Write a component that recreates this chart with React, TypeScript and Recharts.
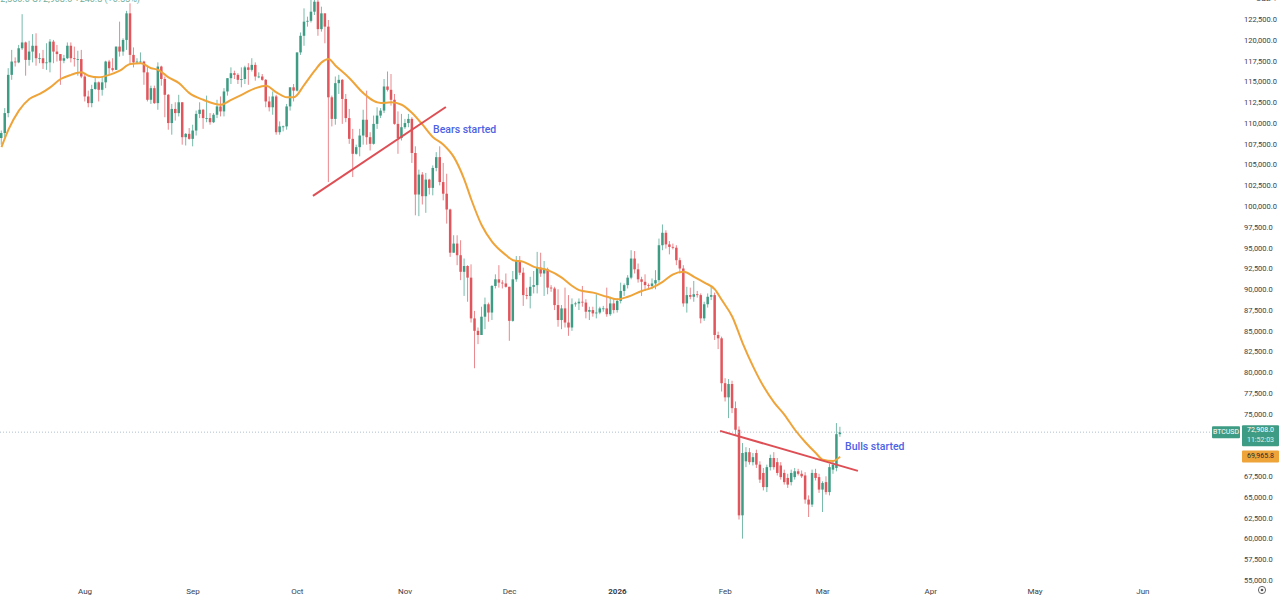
import { ComposedChart, Bar, Line, XAxis, YAxis, ReferenceLine, ReferenceDot } from 'recharts';

// BTCUSD daily candles, values in thousands of USD: [open, high, low, close]
const firstDay = '2025-07-08';

const jul25 = [
  [108.3, 109.2, 107.5, 108.9], [108.9, 111.9, 108.4, 111.3], [111.3, 116.7, 110.8, 115.9], [115.9, 118.9, 115.3, 117.5],
  [117.5, 118.0, 116.9, 117.4], [117.4, 119.5, 117.3, 119.1], [119.1, 123.2, 118.9, 119.8], [119.8, 119.9, 115.8, 117.7],
  [117.7, 120.0, 117.0, 118.7], [118.7, 120.8, 117.4, 119.4], [119.4, 120.9, 117.0, 117.9], [117.9, 118.5, 117.3, 117.9],
  [117.9, 118.9, 116.6, 117.3], [117.3, 119.7, 116.5, 117.4], [117.4, 120.2, 116.2, 119.9], [119.9, 120.1, 117.3, 118.7],
  [118.7, 119.5, 117.5, 118.4], [118.4, 118.4, 114.7, 117.6], [117.6, 118.3, 117.3, 117.9], [117.9, 119.8, 117.8, 119.4],
  [119.4, 119.8, 117.4, 117.9], [117.9, 119.3, 116.9, 117.8], [117.8, 118.8, 115.8, 117.8], [117.8, 118.9, 115.5, 115.7],
];

const aug25 = [
  [115.7, 116.0, 112.7, 113.3], [113.3, 114.0, 112.0, 112.5], [112.5, 114.7, 112.0, 114.2], [114.2, 115.7, 114.1, 115.0],
  [115.0, 115.1, 112.7, 114.1], [114.1, 115.7, 113.4, 115.0], [115.0, 117.6, 114.3, 117.5], [117.5, 117.7, 115.9, 116.7],
  [116.7, 117.9, 116.3, 116.5], [116.5, 119.3, 116.5, 119.3], [119.3, 122.3, 118.1, 118.7], [118.7, 120.3, 118.2, 120.1],
  [120.1, 123.6, 118.9, 123.3], [123.3, 124.5, 117.2, 118.3], [118.3, 119.2, 116.8, 117.4], [117.4, 117.9, 117.2, 117.5],
  [117.5, 118.6, 117.3, 117.5], [117.5, 117.6, 114.7, 116.2], [116.2, 117.0, 112.7, 112.9], [112.9, 114.6, 112.4, 114.3],
  [114.3, 114.6, 112.4, 112.5], [112.5, 117.4, 111.7, 116.9], [116.9, 117.0, 114.6, 115.4], [115.4, 115.7, 110.8, 113.5],
  [113.5, 113.6, 109.3, 110.1], [110.1, 112.4, 108.7, 111.8], [111.8, 112.6, 110.4, 111.3], [111.3, 113.5, 110.9, 112.6],
  [112.6, 112.6, 107.5, 108.4], [108.4, 108.9, 107.4, 108.8], [108.8, 109.5, 108.1, 108.2],
];

const sep25 = [
  [108.2, 109.9, 107.3, 109.2], [109.2, 111.6, 108.6, 111.2], [111.2, 112.6, 110.7, 111.7], [111.7, 111.8, 109.4, 110.7],
  [110.7, 113.4, 110.2, 110.7], [110.7, 111.3, 109.9, 110.2], [110.2, 111.3, 110.1, 111.1], [111.1, 112.9, 110.7, 112.1],
  [112.1, 113.3, 110.9, 111.5], [111.5, 114.3, 110.9, 113.9], [113.9, 115.5, 113.4, 115.5], [115.5, 116.8, 114.8, 116.1],
  [116.1, 116.4, 115.4, 115.9], [115.9, 116.1, 114.8, 115.3], [115.3, 116.8, 114.4, 115.4], [115.4, 117.0, 114.8, 116.8],
  [116.8, 117.3, 114.7, 116.5], [116.5, 117.9, 116.3, 117.1], [117.1, 117.4, 115.2, 115.7], [115.7, 116.2, 115.5, 115.7],
  [115.7, 116.0, 115.2, 115.3], [115.3, 115.4, 112.0, 112.7], [112.7, 113.3, 111.5, 112.0], [112.0, 113.9, 111.1, 113.3],
  [113.3, 113.5, 108.7, 109.0], [109.0, 110.3, 108.7, 109.7], [109.7, 109.8, 109.1, 109.7], [109.7, 112.4, 109.3, 112.1],
  [112.1, 114.4, 111.6, 114.4], [114.4, 114.8, 112.7, 114.0],
];

const oct25 = [
  [114.0, 118.6, 113.9, 118.6], [118.6, 121.0, 118.3, 120.6], [120.6, 123.9, 119.4, 122.3], [122.3, 122.9, 121.7, 122.4],
  [122.4, 125.7, 122.2, 123.5], [123.5, 126.2, 123.1, 124.7], [124.7, 125.1, 120.6, 121.4], [121.4, 124.1, 121.1, 123.3],
  [123.3, 123.3, 119.7, 121.7], [121.7, 122.5, 103.0, 113.2], [113.2, 113.4, 109.7, 110.6], [110.6, 115.7, 109.9, 114.9],
  [114.9, 115.9, 113.6, 115.3], [115.3, 115.4, 110.0, 113.0], [113.0, 113.6, 110.2, 110.7], [110.7, 111.8, 107.6, 108.2],
  [108.2, 109.4, 103.6, 106.4], [106.4, 107.5, 106.3, 107.2], [107.2, 109.4, 106.1, 108.6], [108.6, 111.7, 107.5, 110.5],
  [110.5, 114.0, 107.5, 108.4], [108.4, 109.0, 106.8, 107.6], [107.6, 111.0, 107.5, 110.0], [110.0, 112.0, 109.4, 111.0],
  [111.0, 111.9, 110.7, 111.6], [111.6, 115.4, 111.3, 114.5], [114.5, 116.3, 113.9, 114.1], [114.1, 116.0, 112.2, 112.9],
  [112.9, 113.6, 109.9, 110.0], [110.0, 111.5, 106.4, 108.3], [108.3, 111.2, 108.0, 109.6],
];

const nov25 = [
  [109.6, 110.6, 109.4, 110.1], [110.1, 111.2, 109.6, 110.6], [110.6, 110.8, 105.3, 106.5], [106.5, 107.3, 99.0, 101.5],
  [101.5, 104.5, 98.9, 103.9], [103.9, 104.2, 100.3, 101.3], [101.3, 104.1, 99.3, 103.3], [103.3, 103.4, 101.5, 102.3],
  [102.3, 105.0, 101.4, 104.7], [104.7, 106.6, 104.3, 106.0], [106.0, 107.3, 102.6, 103.0], [103.0, 105.3, 100.8, 101.6],
  [101.6, 104.0, 98.0, 99.7], [99.7, 99.8, 94.0, 94.5], [94.5, 96.6, 94.5, 95.6], [95.6, 96.6, 93.0, 94.2],
  [94.2, 96.0, 91.2, 92.2], [92.2, 93.8, 89.3, 92.9], [92.9, 93.0, 88.6, 91.5], [91.5, 93.1, 86.1, 86.6],
  [86.6, 87.5, 80.6, 85.1], [85.1, 85.5, 83.5, 84.6], [84.6, 88.0, 84.6, 86.8], [86.8, 89.1, 85.3, 88.3],
  [88.3, 88.5, 86.2, 87.3], [87.3, 90.6, 86.4, 90.5], [90.5, 91.9, 90.2, 91.3], [91.3, 93.0, 90.3, 90.9],
  [90.9, 91.2, 90.2, 90.8], [90.8, 92.0, 90.3, 90.4],
];

const dec25 = [
  [90.4, 90.4, 83.9, 86.3], [86.3, 92.3, 86.2, 91.3], [91.3, 94.1, 91.0, 93.5], [93.5, 94.1, 91.8, 92.1],
  [92.1, 92.7, 88.1, 89.4], [89.4, 90.3, 88.9, 89.3], [89.3, 91.6, 87.8, 90.4], [90.4, 92.3, 89.6, 90.6],
  [90.6, 94.6, 89.6, 92.7], [92.7, 94.5, 91.6, 92.0], [92.0, 93.5, 89.3, 92.5], [92.5, 92.7, 89.5, 90.3],
  [90.3, 90.6, 89.8, 90.2], [90.2, 90.4, 87.6, 88.2], [88.2, 90.1, 85.6, 86.4], [86.4, 88.2, 85.3, 87.8],
  [87.8, 90.3, 85.5, 86.1], [86.1, 89.4, 84.5, 85.5], [85.5, 89.0, 85.1, 88.3], [88.3, 88.6, 88.0, 88.4],
  [88.4, 89.0, 87.6, 88.6], [88.6, 90.5, 88.0, 88.5], [88.5, 88.9, 86.6, 87.4], [87.4, 88.0, 86.4, 87.6],
  [87.6, 88.0, 86.8, 87.2], [87.2, 89.5, 86.6, 87.3], [87.3, 88.0, 87.1, 87.8], [87.8, 88.1, 87.4, 87.8],
  [87.8, 90.3, 86.8, 87.1], [87.1, 89.2, 86.9, 88.4], [88.4, 89.0, 87.2, 87.6],
];

const jan26 = [
  [87.6, 89.0, 87.3, 88.7], [88.7, 90.9, 88.4, 89.9], [89.9, 90.8, 89.3, 90.6], [90.6, 91.8, 90.2, 91.5],
  [91.5, 94.8, 91.3, 93.8], [93.8, 94.7, 92.0, 92.5], [92.5, 93.2, 90.9, 91.3], [91.3, 91.6, 89.3, 91.0],
  [91.0, 91.9, 89.9, 90.6], [90.6, 90.8, 90.2, 90.5], [90.5, 91.4, 90.1, 90.8], [90.8, 92.4, 90.1, 91.2],
  [91.2, 96.2, 90.9, 95.4], [95.4, 97.9, 94.8, 96.9], [96.9, 97.2, 95.0, 95.5], [95.5, 95.9, 94.3, 95.2],
  [95.2, 95.6, 94.9, 95.1], [95.1, 95.4, 93.0, 93.6], [93.6, 93.9, 92.0, 92.6], [92.6, 93.0, 88.0, 88.4],
  [88.4, 90.4, 87.3, 89.4], [89.4, 90.3, 88.9, 89.2], [89.2, 91.1, 88.6, 89.5], [89.5, 89.9, 89.1, 89.4],
  [89.4, 89.6, 86.0, 86.6], [86.6, 88.6, 86.3, 88.3], [88.3, 89.6, 87.9, 89.2], [89.2, 90.5, 88.8, 89.4],
  [89.4, 89.7, 84.0, 84.6], [84.6, 85.0, 82.9, 84.2], [84.2, 84.4, 77.8, 78.8],
];

const feb26 = [
  [78.8, 79.4, 76.6, 77.1], [77.1, 79.3, 74.6, 78.7], [78.7, 79.1, 75.2, 75.8], [75.8, 76.6, 72.6, 73.2],
  [73.2, 73.6, 62.4, 62.9], [62.9, 71.6, 60.1, 70.4], [69.4, 71.1, 68.7, 70.5], [70.5, 71.0, 69.0, 69.3],
  [69.3, 70.4, 68.9, 69.9], [70.4, 70.8, 68.6, 69.0], [69.0, 69.4, 66.8, 67.2], [68.0, 68.6, 65.9, 66.3],
  [66.3, 69.0, 65.7, 68.7], [68.7, 70.2, 68.3, 69.8], [69.8, 70.5, 68.4, 68.7], [69.3, 69.8, 67.7, 68.0],
  [68.9, 69.3, 67.2, 67.5], [68.0, 68.4, 66.6, 66.9], [67.4, 67.9, 66.2, 66.6], [66.9, 68.4, 66.5, 68.0],
  [67.5, 68.6, 67.2, 68.2], [68.2, 68.5, 67.7, 67.9], [67.9, 68.3, 67.4, 67.6], [67.7, 68.1, 64.3, 64.8],
  [64.8, 65.3, 62.7, 64.2], [64.2, 68.4, 63.9, 68.0], [68.0, 68.5, 67.1, 67.4], [67.5, 67.9, 65.6, 66.0],
];

const mar26 = [
  [66.0, 67.0, 63.3, 66.8], [66.9, 67.6, 65.4, 65.7], [65.7, 69.1, 65.3, 68.7], [68.4, 69.5, 67.9, 69.0],
  [68.6, 74.0, 68.2, 72.667], [72.667, 73.56, 72.35, 72.908],
];

// moving average: day offset from firstDay, value in thousands
const maDay = [
  0, 2, 5, 8, 11, 14, 17, 20, 23, 25, 28, 31, 34, 37, 40, 43, 45, 48, 51, 54, 58, 63, 66, 69, 73, 76, 79, 82, 84,
  87, 90, 92, 94, 96, 100, 104, 109, 112, 115, 118, 121, 124, 127, 130, 133, 135, 138, 141, 145, 147, 150, 153,
  157, 161, 164, 166, 170, 174, 177, 180, 184, 187, 190, 193, 196, 199, 202, 205, 207, 210, 213, 216, 219, 222,
  225, 228, 231, 234, 236, 239, 241,
];
const maValue = [
  107.2, 109.3, 111.6, 113.0, 113.6, 114.4, 115.4, 115.9, 116.2, 115.8, 115.6, 115.9, 116.4, 117.2, 117.3, 116.7,
  116.5, 115.6, 114.9, 113.7, 112.9, 112.3, 112.9, 113.5, 114.3, 114.6, 113.8, 113.2, 113.2, 114.7, 116.4, 117.4,
  117.8, 117.0, 115.5, 113.7, 112.5, 112.6, 112.3, 111.3, 109.9, 108.4, 107.5, 106.0, 103.3, 100.9, 97.8, 95.8,
  94.2, 93.6, 93.4, 92.8, 92.4, 91.5, 90.5, 90.0, 89.7, 89.2, 88.9, 89.2, 89.9, 90.3, 91.0, 91.9, 92.2, 91.6,
  90.9, 90.1, 88.8, 86.8, 83.6, 80.8, 78.4, 76.5, 75.0, 73.2, 71.7, 70.4, 69.6, 69.45, 69.9658,
];

const monthStarts = [
  '2025-08-01', '2025-09-01', '2025-10-01', '2025-11-01', '2025-12-01', '2026-01-01',
  '2026-02-01', '2026-03-01', '2026-04-01', '2026-05-01', '2026-06-01',
];
const monthLabels = ['Aug', 'Sep', 'Oct', 'Nov', 'Dec', '2026', 'Feb', 'Mar', 'Apr', 'May', 'Jun'];

// 70,000 and 72,500 are hidden behind the price tags in the reference
const priceTicks = [
  55000, 57500, 60000, 62500, 65000, 67500, 75000, 77500, 80000, 82500, 85000, 87500, 90000,
  92500, 95000, 97500, 100000, 102500, 105000, 107500, 110000, 112500, 115000, 117500, 120000, 122500,
];

const UP = '#3f9c84';
const DOWN = '#e0565c';
const MA_COLOR = '#efa43a';
const FONT = 'Roboto, "Liberation Sans", sans-serif';

const dayOffset = (iso: string) => Math.round((Date.parse(iso) - Date.parse(firstDay)) / 86400000);
const monthTicks = monthStarts.map(dayOffset);

const data = [jul25, aug25, sep25, oct25, nov25, dec25, jan26, feb26, mar26].flat().map(([o, h, l, c], t) => ({
  t,
  open: o * 1000,
  high: h * 1000,
  low: l * 1000,
  close: c * 1000,
  range: [l * 1000, h * 1000],
}));

const maData = maDay.map((t, i) => ({ t, ma: maValue[i] * 1000 }));

const last = data[data.length - 1];
const lastMa = maData[maData.length - 1].ma;

const fmt = (v: number) => v.toLocaleString('en-US', { minimumFractionDigits: 1, maximumFractionDigits: 1 });

const Candle = (props: any) => {
  const { x, y, width, height, payload } = props;
  if (!payload || height == null) return null;
  const { open, close, high, low } = payload;
  const span = high - low || 1;
  const py = (p: number) => y + ((high - p) / span) * height;
  const color = close >= open ? UP : DOWN;
  const cx = x + width / 2;
  const top = py(Math.max(open, close));
  const bottom = py(Math.min(open, close));
  return (
    <g>
      <line x1={cx} x2={cx} y1={y} y2={y + height} stroke={color} strokeWidth={1} strokeOpacity={0.7} />
      <rect x={cx - 1.25} y={top} width={2.5} height={Math.max(bottom - top, 0.8)} fill={color} />
    </g>
  );
};

const MonthTick = ({ x, y, payload }: any) => {
  const label = monthLabels[monthTicks.indexOf(payload.value)];
  return (
    <text x={x} y={y + 9} textAnchor="middle" dominantBaseline="middle" fontSize={8} fontFamily={FONT}
      fontWeight={label === '2026' ? 700 : 400} fill="#3a3e4a">
      {label}
    </text>
  );
};

const PriceTick = ({ x, y, payload }: any) => (
  <text x={x} y={y} textAnchor="start" dominantBaseline="middle" fontSize={7.5} fontFamily={FONT} fill="#3a3e4a">
    {fmt(payload.value)}
  </text>
);

const LastPriceTag = (props: any) => {
  const vb = props.viewBox || {};
  const right = (vb.x ?? 0) + (vb.width ?? 0);
  const y = vb.y ?? 0;
  return (
    <g fontFamily={FONT} fontSize={7}>
      <rect x={right - 28} y={y - 6} width={28} height={12} fill={UP} rx={1} />
      <text x={right - 14} y={y} textAnchor="middle" dominantBaseline="middle" fill="#fff">BTCUSD</text>
      <rect x={right + 2} y={y - 7} width={37} height={21} fill={UP} rx={1} />
      <text x={right + 20.5} y={y - 2} textAnchor="middle" dominantBaseline="middle" fill="#fff">{fmt(last.close)}</text>
      <text x={right + 20.5} y={y + 8} textAnchor="middle" dominantBaseline="middle" fill="#dff0ea">11:52:03</text>
    </g>
  );
};

const MaTag = (props: any) => {
  const vb = props.viewBox || {};
  const right = (vb.x ?? 0) + (vb.width ?? 0);
  const y = vb.y ?? 0;
  return (
    <g fontFamily={FONT} fontSize={7}>
      <rect x={right + 2} y={y - 6} width={37} height={12} fill={MA_COLOR} rx={1} />
      <text x={right + 20.5} y={y} textAnchor="middle" dominantBaseline="middle" fill="#2a2a2a">{fmt(lastMa)}</text>
    </g>
  );
};

const NoteText = (text: string) => (p: any) => (
  <text x={p.cx} y={p.cy} dominantBaseline="middle" fontSize={10.5} fontWeight={500} fontFamily={FONT} fill="#4d62e4">
    {text}
  </text>
);

export default function App() {
  return (
    <div style={{ position: 'fixed', left: 0, top: 0, width: 1280, height: 597, overflow: 'hidden', background: '#fff' }}>
      <div style={{ position: 'absolute', right: 1140, top: -6, whiteSpace: 'nowrap', fontSize: 9, fontFamily: FONT, color: '#6fae9b' }}>
        O72,667.2 H73,560.0 L72,350.0 C72,908.0 +240.8 (+0.33%)
      </div>
      <div style={{ position: 'absolute', left: 1256, top: -6, fontSize: 8, fontFamily: FONT, color: '#3a3e4a' }}>USD ▾</div>
      <svg style={{ position: 'absolute', left: 1257, top: 585 }} width={10} height={10}>
        <circle cx={5} cy={5} r={3.6} fill="none" stroke="#555" strokeWidth={0.9} />
        <circle cx={5} cy={5} r={1.3} fill="#555" />
      </svg>
      <ComposedChart width={1280} height={597} data={data} margin={{ top: 0, right: 0, left: 0, bottom: 0 }}>
        <XAxis
          type="number"
          dataKey="t"
          domain={[-0.43, 355.9]}
          allowDataOverflow
          ticks={monthTicks}
          interval={0}
          tick={<MonthTick />}
          tickLine={false}
          axisLine={false}
          tickSize={0}
          tickMargin={0}
          height={14}
        />
        <YAxis
          orientation="right"
          domain={[54760, 124906]}
          allowDataOverflow
          ticks={priceTicks}
          interval={0}
          tick={<PriceTick />}
          tickLine={false}
          axisLine={false}
          tickSize={0}
          tickMargin={4}
          width={40}
        />
        <ReferenceLine y={last.close} stroke="#aebfd0" strokeDasharray="1 2" label={<LastPriceTag />} />
        <ReferenceLine y={lastMa} strokeOpacity={0} label={<MaTag />} />
        <Bar dataKey="range" barSize={3} shape={<Candle />} isAnimationActive={false} />
        <Line data={maData} type="monotone" dataKey="ma" stroke={MA_COLOR} strokeWidth={2} dot={false} activeDot={false} isAnimationActive={false} />
        <ReferenceLine
          segment={[{ x: 89.5, y: 101330 }, { x: 127.7, y: 112030 }]}
          stroke="#dd4f55"
          strokeWidth={2}
          ifOverflow="visible"
        />
        <ReferenceLine
          segment={[{ x: 206.5, y: 73060 }, { x: 246.1, y: 68250 }]}
          stroke="#dd4f55"
          strokeWidth={2}
          ifOverflow="visible"
        />
        <ReferenceDot x={124} y={109270} r={0} ifOverflow="visible" shape={NoteText('Bears started')} />
        <ReferenceDot x={242.4} y={71130} r={0} ifOverflow="visible" shape={NoteText('Bulls started')} />
      </ComposedChart>
    </div>
  );
}
